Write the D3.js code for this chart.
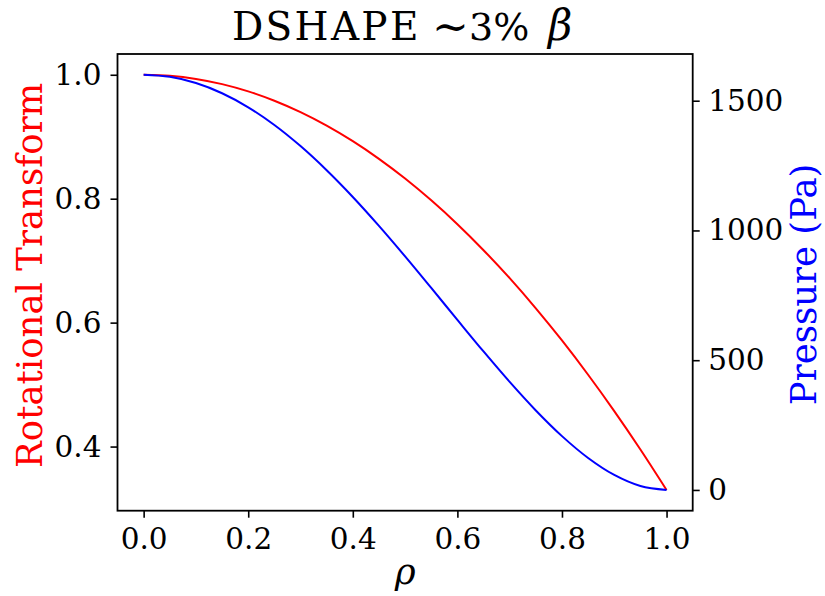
<!DOCTYPE html>
<html>
<head>
<meta charset="utf-8">
<script src="https://cdn.jsdelivr.net/npm/d3@7"></script>
<style>
  html, body { margin: 0; padding: 0; background: #fff; }
  svg text { font-family: "DejaVu Serif", serif; }
</style>
</head>
<body>
<script>
// ---- data ----
const rho = [0, 0.05, 0.1, 0.15, 0.2, 0.25, 0.3, 0.35, 0.4, 0.45, 0.5,
             0.55, 0.6, 0.65, 0.7, 0.75, 0.8, 0.85, 0.9, 0.95, 1.0];
const iota = [1.0, 0.9983, 0.9933, 0.9849, 0.9732, 0.9581, 0.9397, 0.9179, 0.8928, 0.8643, 0.8325,
              0.7973, 0.7588, 0.7169, 0.6717, 0.6231, 0.5712, 0.5159, 0.4573, 0.3953, 0.33];
const pressure = [1600, 1592.0, 1568.2, 1528.8, 1474.6, 1406.3, 1325.0, 1232.0, 1129.0, 1017.6, 900,
                  778.4, 655.4, 533.6, 416.2, 306.3, 207.4, 123.2, 57.8, 15.2, 0];
const xTicks = [0.0, 0.2, 0.4, 0.6, 0.8, 1.0];
const leftTicks = [0.4, 0.6, 0.8, 1.0];
const rightTicks = [0, 500, 1000, 1500];

const W = 825, H = 596;
const m = { left: 117.5, right: W - 692.7, top: 54, bottom: H - 510.7 };

const svg = d3.select("body").append("svg").attr("width", W).attr("height", H);

const x = d3.scaleLinear().domain([-0.05, 1.05]).range([m.left, W - m.right]);
const yL = d3.scaleLinear().domain([0.2965, 1.0335]).range([H - m.bottom, m.top]);
const yR = d3.scaleLinear().domain([-80, 1680]).range([H - m.bottom, m.top]);

const tickFont = 29.5;
const labelFont = 35.5;

// axes
const gx = svg.append("g").attr("transform", `translate(0,${H - m.bottom})`)
  .call(d3.axisBottom(x).tickValues(xTicks).tickFormat(d3.format(".1f")).tickSize(7).tickPadding(10));
const gl = svg.append("g").attr("transform", `translate(${m.left},0)`)
  .call(d3.axisLeft(yL).tickValues(leftTicks).tickFormat(d3.format(".1f")).tickSize(7).tickPadding(9));
const gr = svg.append("g").attr("transform", `translate(${W - m.right},0)`)
  .call(d3.axisRight(yR).tickValues(rightTicks).tickFormat(d3.format("d")).tickSize(7).tickPadding(8.5));

[gx, gl, gr].forEach(g => {
  g.select(".domain").remove();
  g.selectAll(".tick line").attr("stroke", "#000").attr("stroke-width", 1.6);
  g.selectAll(".tick text").attr("fill", "#000").style("font-size", tickFont + "px")
    .style("font-family", "'DejaVu Serif', serif");
});

// lines
const lineL = d3.line().x((d, i) => x(rho[i])).y(d => yL(d)).curve(d3.curveCatmullRom);
const lineR = d3.line().x((d, i) => x(rho[i])).y(d => yR(d)).curve(d3.curveCatmullRom);

svg.append("path").datum(iota).attr("d", lineL)
  .attr("fill", "none").attr("stroke", "red").attr("stroke-width", 2);
svg.append("path").datum(pressure).attr("d", lineR)
  .attr("fill", "none").attr("stroke", "blue").attr("stroke-width", 2);

// frame
svg.append("rect")
  .attr("x", m.left).attr("y", m.top)
  .attr("width", W - m.left - m.right).attr("height", H - m.top - m.bottom)
  .attr("fill", "none").attr("stroke", "#000").attr("stroke-width", 1.8);

// axis labels
const cy = (m.top + H - m.bottom) / 2;
svg.append("text")
  .attr("transform", `translate(42,${cy - 7}) rotate(-90)`)
  .attr("text-anchor", "middle").attr("fill", "red")
  .style("font-size", labelFont + "px").text("Rotational Transform");
svg.append("text")
  .attr("transform", `translate(816,${cy + 2}) rotate(-90)`)
  .attr("text-anchor", "middle").attr("fill", "blue")
  .style("font-size", labelFont + "px").text("Pressure (Pa)");
svg.append("text")
  .attr("x", (m.left + W - m.right) / 2).attr("y", 584)
  .attr("text-anchor", "middle").attr("fill", "#000")
  .style("font-size", labelFont + "px").style("font-style", "italic").text("ρ");

// title: "DSHAPE  ~3% β"
const tg = svg.append("g");
tg.append("text").attr("x", 232).attr("y", 40)
  .style("font-size", "39px").style("letter-spacing", "2.3px").attr("fill", "#000").text("DSHAPE");
tg.append("text").attr("x", 432).attr("y", 42)
  .style("font-size", "44px").attr("fill", "#000").text("~");
tg.append("text").attr("x", 469).attr("y", 40)
  .style("font-size", "38px").attr("fill", "#000").text("3%");
tg.append("text").attr("x", 548).attr("y", 40)
  .style("font-size", "42px").style("font-style", "italic").attr("fill", "#000").text("β");
</script>
</body>
</html>
